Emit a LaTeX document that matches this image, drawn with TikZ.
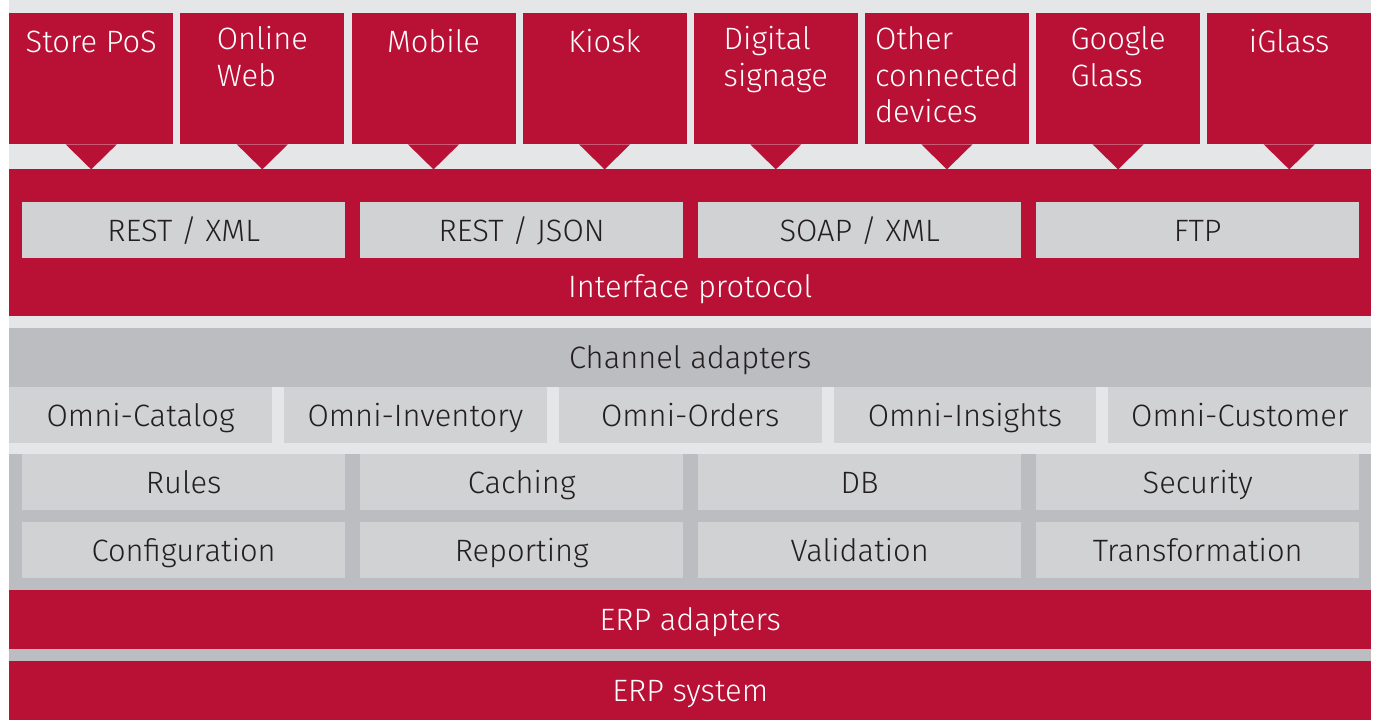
\documentclass[tikz,border=0pt]{standalone}
\usepackage{fontspec}
\setmainfont{Fira Sans}[UprightFont=* Light]
\usetikzlibrary{positioning}
\definecolor{omnired}{RGB}{185,16,54}
\definecolor{omnibg}{RGB}{229,230,232}
\definecolor{omnimid}{RGB}{188,189,192}
\definecolor{omnibox}{RGB}{209,210,212}
\definecolor{omnitext}{RGB}{35,31,32}
\newcommand\archfont{\fontsize{31}{37}\selectfont}
\def\devpointer(#1){\fill[omnired] (#1.south) ++(-25.5,0) -- ++(51,0) -- ++(-25.5,25) -- cycle;}

\begin{document}
\begin{tikzpicture}[x=1bp,y=-1bp,
	device/.style={fill=omnired, minimum width=164bp, minimum height=131bp, anchor=north west, inner sep=0pt},
	devlabel/.style={text=white, align=left, anchor=north, inner sep=0pt, font=\archfont, execute at begin node=\strut},
	layer/.style={anchor=north west, inner sep=0pt, minimum width=1362bp, minimum height=59bp, font=\archfont, text height=22bp, text depth=0pt},
	redlayer/.style={layer, fill=omnired, text=white},
	greylayer/.style={layer, fill=omnimid, text=omnitext},
	tile/.style={anchor=north west, inner sep=0pt, minimum height=56bp, fill=omnibox, text=omnitext, font=\archfont, text height=22bp, text depth=0pt},
	widetile/.style={tile, minimum width=323bp},
	omnitile/.style={tile, minimum width=262.8bp}]
		%%%%% START %%%%%
		
		\useasboundingbox (0,0) rectangle (1376,720);
		\fill[white] (0,0) rectangle (1376,720);
		\fill[omnibg] (9,0) rectangle (1371,454);
		\fill[omnimid] (9,454) rectangle (1371,720);
		
		% channels
		\node[device] (pos) at (9,13) {};
		\node[device] (web) at (180.1,13) {};
		\node[device] (mobile) at (351.3,13) {};
		\node[device] (kiosk) at (522.4,13) {};
		\node[device] (signage) at (693.6,13) {};
		\node[device] (other) at (864.7,13) {};
		\node[device] (glass) at (1035.9,13) {};
		\node[device] (iglass) at (1207,13) {};
		
		\node[devlabel, below=13bp of pos.north] {Store PoS};
		\node[devlabel, below=13bp of web.north] {Online\\Web};
		\node[devlabel, below=13bp of mobile.north] {Mobile};
		\node[devlabel, below=13bp of kiosk.north] {Kiosk};
		\node[devlabel, below=13bp of signage.north] {Digital\\signage};
		\node[devlabel, below=13bp of other.north] {Other\\connected\\devices};
		\node[devlabel, below=13bp of glass.north] {Google\\Glass};
		\node[devlabel, below=13bp of iglass.north] {iGlass};
		
		\devpointer(pos)
		\devpointer(web)
		\devpointer(mobile)
		\devpointer(kiosk)
		\devpointer(signage)
		\devpointer(other)
		\devpointer(glass)
		\devpointer(iglass)
		
		% interface protocol
		\node[redlayer, minimum height=147bp] (iface) at (9,169) {};
		\node[font=\archfont, text=white, inner sep=0pt, text height=22bp, text depth=0pt, above=18.5bp of iface.south] (ifacelabel) {Interface protocol};
		\node[widetile] (restxml) at (22,202) {REST / XML};
		\node[widetile] (restjson) at (360,202) {REST / JSON};
		\node[widetile] (soapxml) at (698,202) {SOAP / XML};
		\node[widetile] (ftp) at (1036,202) {FTP};
		
		% middleware
		\node[greylayer] (channel) at (9,328) {Channel adapters};
		\node[omnitile] (catalog) at (9,387) {Omni-Catalog};
		\node[omnitile] (inventory) at (283.8,387) {Omni-Inventory};
		\node[omnitile] (orders) at (558.6,387) {Omni-Orders};
		\node[omnitile] (insights) at (833.4,387) {Omni-Insights};
		\node[omnitile] (customer) at (1108.2,387) {Omni-Customer};
		
		\node[widetile] (rules) at (22,454) {Rules};
		\node[widetile] (caching) at (360,454) {Caching};
		\node[widetile] (db) at (698,454) {DB};
		\node[widetile] (security) at (1036,454) {Security};
		\node[widetile] (config) at (22,522) {Configuration};
		\node[widetile] (reporting) at (360,522) {Reporting};
		\node[widetile] (validation) at (698,522) {Validation};
		\node[widetile] (transform) at (1036,522) {Transformation};
		
		% erp
		\node[redlayer] (erpadapters) at (9,590) {ERP adapters};
		\node[redlayer] (erp) at (9,661) {ERP system};
		
		%%%%% END %%%%%
\end{tikzpicture}
\end{document}
